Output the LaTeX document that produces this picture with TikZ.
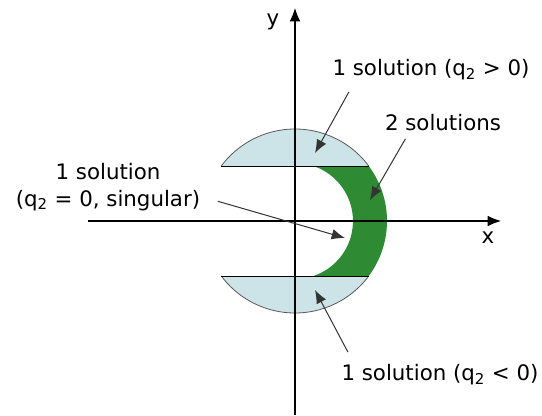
\documentclass[tikz,border=0pt]{standalone}
\usepackage{fontspec}
\setmainfont{DejaVu Sans}
\usetikzlibrary{arrows.meta,positioning}
\definecolor{capblue}{RGB}{204,228,232}
\definecolor{twogreen}{RGB}{46,139,51}
\tikzset{>={Latex[length=10pt,width=8pt]}}
\tikzset{lbl/.style={font=\fontsize{16}{20}\selectfont, inner sep=1pt, align=center}}
\tikzset{pointer/.style={->, line width=0.75pt, black!80}}

\begin{document}
\begin{tikzpicture}[x=0.75pt,y=0.75pt]
  \useasboundingbox (-295,-194) rectangle (247,221);
  % one-solution caps
  \fill[capblue] (36.72:92) arc[start angle=36.72, end angle=143.28, radius=92] -- cycle;
  \fill[capblue] (-36.72:92) arc[start angle=-36.72, end angle=-143.28, radius=92] -- cycle;
  % two-solution region
  \fill[twogreen] (-36.72:92) arc[start angle=-36.72, end angle=36.72, radius=92]
    -- (71.47:58) arc[start angle=71.47, end angle=-71.47, radius=58] -- cycle;
  \draw[black!65, line width=0.6pt] (36.72:92) arc[start angle=36.72, end angle=143.28, radius=92];
  \draw[black!65, line width=0.6pt] (-36.72:92) arc[start angle=-36.72, end angle=-143.28, radius=92];
  \draw[line width=0.7pt] (143.28:92) -- (36.72:92);
  \draw[line width=0.7pt] (-143.28:92) -- (-36.72:92);

  % axes
  \coordinate (xl) at (-207,0);
  \coordinate (xr) at (206,0);
  \coordinate (yb) at (0,-194);
  \coordinate (yt) at (0,213);
  \draw[->, line width=0.8pt] (xl) -- (xr);
  \draw[->, line width=0.8pt] (yb) -- (yt);
  \node[lbl] (xlab) at (193,-17) {x};
  \node[lbl] (ylab) at (-22,199) {y};

  % labels
  \node[lbl] (upper) at (136,151) {1 solution (q\textsubscript{2} > 0)};
  \node[lbl] (two) at (148,98) {2 solutions};
  \node[lbl] (sing) at (-187,34) {1 solution\\(q\textsubscript{2} = 0, singular)};
  \node[lbl] (lower) at (145,-154) {1 solution (q\textsubscript{2} < 0)};

  % arrow targets
  \coordinate (upperTip) at (20,68);
  \coordinate (twoTip) at (75,21);
  \coordinate (singTip) at (50,-17);
  \coordinate (lowerTip) at (20,-69);

  \draw[pointer] ([shift={(18,-10)}]upper.south west) -- (upperTip);
  \draw[pointer] ([shift={(22,-6)}]two.south west) -- (twoTip);
  \draw[pointer] ([shift={(16,11)}]sing.south east) -- (singTip);
  \draw[pointer] ([shift={(8,11)}]lower.north west) -- (lowerTip);
\end{tikzpicture}
\end{document}
